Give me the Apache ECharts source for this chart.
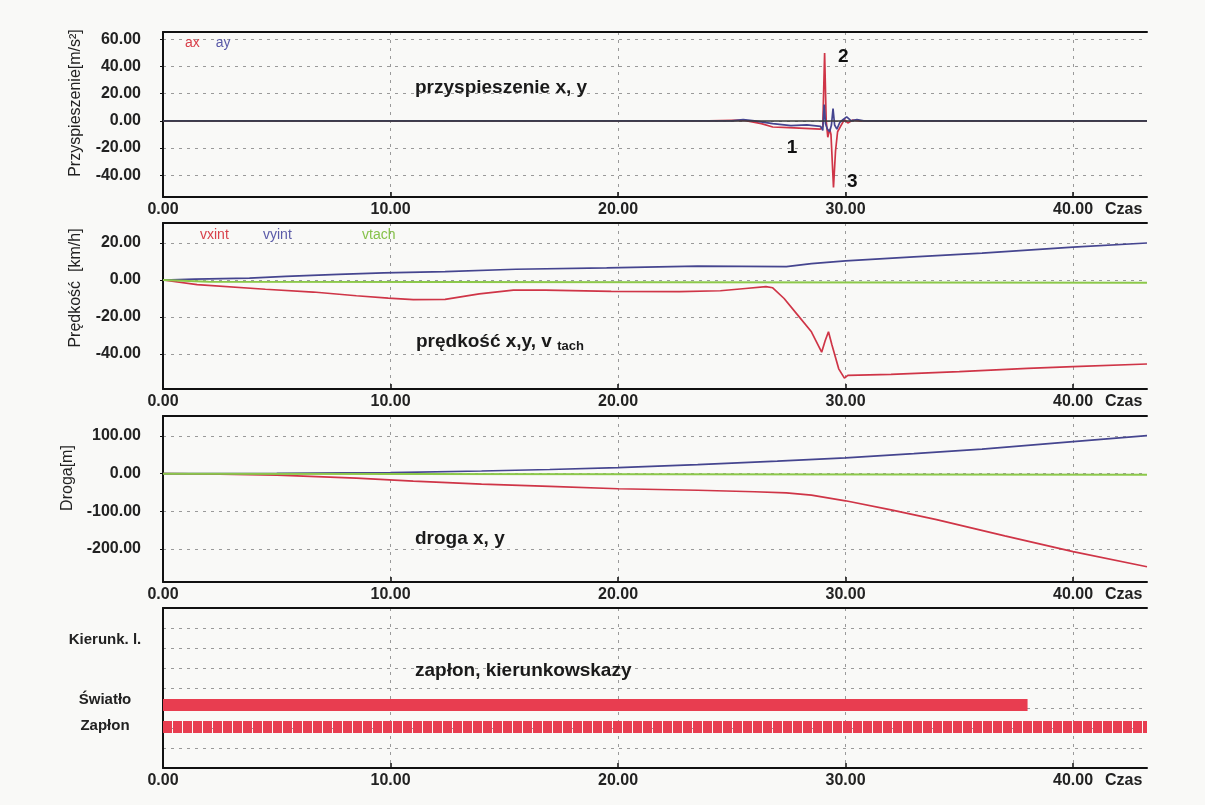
<!DOCTYPE html>
<html><head><meta charset="utf-8">
<script src="https://cdn.jsdelivr.net/npm/echarts@6/dist/echarts.min.js"></script>
<style>html,body{margin:0;padding:0;background:#f9f9f7}#c{width:1205px;height:805px}</style>
</head><body><div id="c"></div>
<script>
// ---- tick labels ----
const xTicks = [0, 10, 20, 30, 40];
const accTicks = [-40, -20, 0, 20, 40, 60];
const velTicks = [-40, -20, 0, 20];
const distTicks = [-200, -100, 0, 100];
const sigTicks = [1, 2, 3, 4, 5, 6, 7];
const sigLabels = ['Kierunk. l.', 'Światło', 'Zapłon'];
const sigLabelPos = [6.4, 3.4, 2.1];

// ---- acceleration [m/s2] ----
const tAx = [0, 24.0, 25.5, 26.3, 26.8, 27.5, 28.2, 28.9, 29.0, 29.08, 29.15, 29.22, 29.3, 29.36, 29.47, 29.56, 29.65, 29.78, 29.95, 30.1, 30.3, 30.6, 43.25];
const ax  = [0, 0, 0.5, -2, -4.5, -5, -5.5, -6, -4, 50, 0, -12, -6, -10, -49, -22, -8, -4, 1, -1.5, 0.5, 0, 0];
const tAy = [0, 25.0, 25.5, 26.0, 26.8, 27.6, 28.3, 28.9, 29.0, 29.06, 29.12, 29.2, 29.3, 29.38, 29.45, 29.52, 29.62, 29.75, 29.9, 30.05, 30.25, 30.5, 30.8, 43.25];
const ay  = [0, 0, 1, 0, -2, -3.5, -3, -4, -7, 12, -2, -6, -8, -3, 9, -3, -6, -1, 1, 3, 0, 1, 0, 0];

// ---- velocity [km/h] ----
const tVx = [0, 1.5, 4.5, 6.6, 8.5, 9.9, 11, 12.4, 13.9, 15.4, 16.8, 19.7, 22.7, 24.5, 25.6, 26.5, 26.8, 27.3, 27.9, 28.5, 28.95, 29.1, 29.25, 29.4, 29.7, 29.95, 30.1, 32, 35, 38, 40, 43.25];
const vx  = [0, -2.5, -5, -6.5, -8.5, -9.8, -10.6, -10.5, -7.5, -5.5, -5.5, -6.2, -6.3, -5.8, -4.6, -3.6, -4.2, -10, -19, -28, -39, -33, -28, -35, -48, -53, -51.5, -51, -49.5, -47.8, -46.8, -45.4];
const tVy = [0, 1.4, 3.8, 5.4, 7.7, 9.7, 12.4, 15.5, 19.5, 23.5, 27.4, 28.5, 30, 33, 36, 40, 43.25];
const vy  = [0, 0.5, 1, 2, 3, 3.8, 4.5, 5.8, 6.5, 7.5, 7.2, 8.8, 10.3, 12.5, 14.5, 17.8, 20];
const tVt = [0, 2, 43.25];
const vt  = [0, -1, -1.5];

// ---- distance [m] ----
const tSx = [0, 2.5, 5, 8.5, 11, 14, 17, 20, 23.5, 26, 27.4, 28.5, 30, 32, 34, 37, 40, 43.25];
const sx  = [0, -1, -4, -12, -20, -28, -34, -40, -44, -48, -51, -57, -72, -96, -122, -165, -207, -247];
const tSy = [0, 5, 8, 10, 14, 17, 20, 23.5, 27, 30, 33, 36, 40, 43.25];
const sy  = [0, 1, 2, 3, 7, 11, 16, 24, 33, 42, 53, 65, 85, 101];
const tSt = [0, 43.25];
const st  = [0, -3];

// ---- signals (start, end time) ----
const swiatloSpan = [0, 38.0];
const zaplonSpan = [0, 43.25];
const swiatloLane = 3.15;
const zaplonLane = 2.05;

// ---- annotations ----
const notes = [{ name: '2', coord: [29.9, 47] }, { name: '1', coord: [27.65, -20] }, { name: '3', coord: [30.3, -45] }];

const zip = (t, v) => t.map((x, i) => [x, v[i]]);
const FF = 'Liberation Sans, Arial, sans-serif';
const RED = '#cf3547', BLUE = '#45458f', GREEN = '#8cc84a', BAR = '#e83d50';
const gridLine = { show: true, lineStyle: { type: [3, 5], color: '#9a9a9a', width: 1 } };
const XMAX = 43.25;

const grids = [
  { left: 163, right: 58, top: 32, height: 165 },
  { left: 163, right: 58, top: 223, height: 166 },
  { left: 163, right: 58, top: 416, height: 166 },
  { left: 163, right: 58, top: 608, height: 160 }
];

const xAxes = [];
grids.forEach((g, i) => {
  xAxes.push({
    type: 'value', gridIndex: i, min: 0, max: XMAX, position: 'bottom',
    axisLine: { onZero: false, lineStyle: { color: '#111', width: 2 } },
    axisTick: { customValues: xTicks, inside: true, length: 5, lineStyle: { color: '#111', width: 1.5 } },
    axisLabel: { customValues: xTicks, formatter: v => v.toFixed(2), fontSize: 16, fontWeight: 'bold', color: '#222', margin: 5, fontFamily: FF },
    splitLine: gridLine,
    name: 'Czas', nameLocation: 'end', nameGap: -42,
    nameTextStyle: { fontSize: 16, fontWeight: 'bold', color: '#222', fontFamily: FF, verticalAlign: 'top', align: 'left', padding: [5, 0, 0, 0] }
  });
  xAxes.push({
    type: 'value', gridIndex: i, min: 0, max: XMAX, position: 'top',
    axisLine: { onZero: false, lineStyle: { color: '#111', width: 2 } },
    axisTick: { show: false }, axisLabel: { show: false }, splitLine: { show: false }
  });
});

function yAx(i, min, max, ticks, name, pad, fmt) {
  return {
    type: 'value', gridIndex: i, min: min, max: max,
    axisLine: { show: true, lineStyle: { color: '#111', width: 2 } },
    axisTick: { show: true, customValues: ticks, length: 3, lineStyle: { color: '#111' } },
    axisLabel: { customValues: ticks, formatter: fmt || (v => v.toFixed(2)), fontSize: 16, fontWeight: 'bold', color: '#222', margin: 22, fontFamily: FF },
    splitLine: gridLine,
    name: name, nameLocation: 'middle', nameGap: 79,
    nameTextStyle: { fontSize: 16, color: '#222', fontFamily: FF, padding: [0, 0, 0, pad] }
  };
}

const yAxes = [
  yAx(0, -56, 65.4, accTicks, 'Przyspieszenie[m/s²]', 23),
  yAx(1, -58.9, 30.8, velTicks, 'Prędkość  [km/h]', 36),
  yAx(2, -287.5, 153, distTicks, 'Droga[m]', 42),
  {
    type: 'value', gridIndex: 3, min: 0, max: 8,
    axisLine: { show: true, lineStyle: { color: '#111', width: 2 } },
    axisTick: { show: false, customValues: sigTicks },
    axisLabel: {
      customValues: sigLabelPos, align: 'center', margin: 58, fontSize: 15, fontWeight: 'bold', color: '#222', fontFamily: FF,
      formatter: v => { let b = 0; sigLabelPos.forEach((p, k) => { if (Math.abs(p - v) < Math.abs(sigLabelPos[b] - v)) b = k; }); return sigLabels[b]; }
    },
    splitLine: gridLine
  }
];

const line = (name, data, color, xi, yi, extra) => Object.assign({
  name: name, type: 'line', data: data, xAxisIndex: xi, yAxisIndex: yi,
  symbol: 'none', showSymbol: false, lineStyle: { color: color, width: 1.7 }, itemStyle: { color: color }, silent: true
}, extra || {});

const series = [
  line('ax', zip(tAx, ax), RED, 0, 0, {
    markPoint: {
      symbol: 'circle', symbolSize: 1, itemStyle: { color: 'rgba(0,0,0,0)' },
      label: { show: true, position: 'inside', formatter: p => p.name, color: '#111', fontSize: 19, fontWeight: 'bold', fontFamily: FF },
      data: notes.map(n => ({ name: n.name, coord: n.coord }))
    }
  }),
  line('ay', zip(tAy, ay), BLUE, 0, 0, {
    markLine: {
      silent: true, symbol: 'none', label: { show: false },
      lineStyle: { color: '#3a3a3a', type: 'solid', width: 1.6 },
      data: [{ yAxis: 0 }]
    }
  }),
  line('vxint', zip(tVx, vx), RED, 2, 1),
  line('vyint', zip(tVy, vy), BLUE, 2, 1),
  line('vtach', zip(tVt, vt), GREEN, 2, 1, { lineStyle: { color: GREEN, width: 2 } }),
  line('sxint', zip(tSx, sx), RED, 4, 2),
  line('syint', zip(tSy, sy), BLUE, 4, 2),
  line('stach', zip(tSt, st), GREEN, 4, 2, { lineStyle: { color: GREEN, width: 2 } }),
  line('Światło', swiatloSpan.map(t => [t, swiatloLane]), BAR, 6, 3, { lineStyle: { color: BAR, width: 12, cap: 'butt' } }),
  line('Zapłon', zaplonSpan.map(t => [t, zaplonLane]), BAR, 6, 3, { lineStyle: { color: BAR, width: 12, cap: 'butt', type: [9, 1] } })
];

const titleStyle = { fontSize: 19, fontWeight: 'bold', color: '#1a1a1a', fontFamily: FF };
const legendBase = { icon: 'none', itemWidth: 0, itemGap: 11, selectedMode: false, textStyle: { fontSize: 14, fontFamily: FF } };

const option = {
  animation: false,
  backgroundColor: '#f9f9f7',
  title: [
    { text: 'przyspieszenie x, y', left: 410, top: 73, textStyle: titleStyle },
    { text: '{a|prędkość x,y, v }{b|tach}', left: 411, top: 326, textStyle: Object.assign({}, titleStyle, { rich: { a: titleStyle, b: { fontSize: 13, fontWeight: 'bold', color: '#1a1a1a', fontFamily: FF, padding: [9, 0, 0, 0] } } }) },
    { text: 'droga x, y', left: 410, top: 524, textStyle: titleStyle },
    { text: 'zapłon, kierunkowskazy', left: 410, top: 656, textStyle: titleStyle }
  ],
  legend: [
    Object.assign({}, legendBase, { left: 175, top: 31, data: [{ name: 'ax', textStyle: { color: '#d8404a' } }, { name: 'ay', textStyle: { color: '#5a5aa8' } }] }),
    Object.assign({}, legendBase, { left: 190, top: 223, data: [{ name: 'vxint', textStyle: { color: '#d8404a' } }] }),
    Object.assign({}, legendBase, { left: 253, top: 223, data: [{ name: 'vyint', textStyle: { color: '#5a5aa8' } }] }),
    Object.assign({}, legendBase, { left: 352, top: 223, data: [{ name: 'vtach', textStyle: { color: '#86c24a' } }] })
  ],
  grid: grids,
  xAxis: xAxes,
  yAxis: yAxes,
  series: series
};

echarts.init(document.getElementById('c')).setOption(option);
</script>
</body></html>
